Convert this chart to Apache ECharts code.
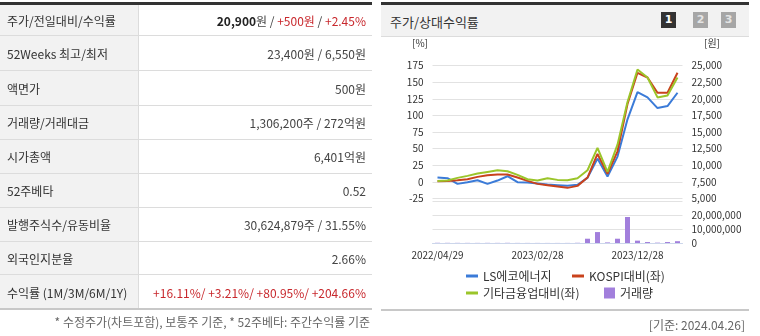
<!DOCTYPE html>
<html><head><meta charset="utf-8">
<script src="https://cdn.jsdelivr.net/npm/echarts/dist/echarts.min.js"></script>
<style>
html,body{margin:0;padding:0;width:760px;height:336px;overflow:hidden;background:#fff;font-family:"Noto Sans CJK KR","Noto Sans",sans-serif;color:#333;}
#chart{position:absolute;left:0;top:0;width:760px;height:336px;}
.a{position:absolute;box-sizing:border-box;}
.row{position:absolute;left:0;width:372px;border-bottom:1px solid #dcdcdc;box-sizing:border-box;font-size:12px;}
.lab{position:absolute;left:0;top:0;bottom:0;width:139px;background:#f2f2f2;border-right:1px solid #dcdcdc;padding-left:7px;display:flex;align-items:center;box-sizing:border-box;color:#333;}
.val{position:absolute;left:139px;right:6px;top:0;bottom:0;display:flex;align-items:center;justify-content:flex-end;color:#444;white-space:nowrap;}
.red{color:#c8282d;}
b{color:#222;}
.btn{position:absolute;top:12px;width:15px;height:16px;font-size:11px;font-weight:bold;text-align:center;line-height:16px;font-family:"DejaVu Sans",sans-serif;}
</style></head>
<body>
<div id="chart"></div>

<!-- left info table -->
<div class="a" style="left:0;top:2px;width:372px;height:3px;background:#333;"></div>
<div class="row" style="top:5px;height:31px;"><div class="lab">주가/전일대비/수익률</div><div class="val"><b>20,900</b>원&nbsp;/&nbsp;<span class="red">+500원</span>&nbsp;/&nbsp;<span class="red">+2.45%</span></div></div>
<div class="row" style="top:36px;height:35px;"><div class="lab">52Weeks 최고/최저</div><div class="val">23,400원 / 6,550원</div></div>
<div class="row" style="top:71px;height:35px;"><div class="lab">액면가</div><div class="val">500원</div></div>
<div class="row" style="top:106px;height:34px;"><div class="lab">거래량/거래대금</div><div class="val">1,306,200주 / 272억원</div></div>
<div class="row" style="top:140px;height:34px;"><div class="lab">시가총액</div><div class="val">6,401억원</div></div>
<div class="row" style="top:174px;height:34px;"><div class="lab">52주베타</div><div class="val">0.52</div></div>
<div class="row" style="top:208px;height:34px;"><div class="lab">발행주식수/유동비율</div><div class="val">30,624,879주 / 31.55%</div></div>
<div class="row" style="top:242px;height:33px;"><div class="lab">외국인지분율</div><div class="val">2.66%</div></div>
<div class="row" style="top:275px;height:34px;border-bottom:none;"><div class="lab">수익률 (1M/3M/6M/1Y)</div><div class="val red">+16.11%/ +3.21%/ +80.95%/ +204.66%</div></div>
<div class="a" style="left:0;top:308px;width:372px;height:2px;background:#c8c8c8;"></div>
<div class="a" style="right:390px;top:313px;font-size:12px;color:#666;white-space:nowrap;">* 수정주가(차트포함), 보통주 기준, * 52주베타: 주간수익률 기준</div>

<!-- right panel frame -->
<div class="a" style="left:381px;top:2px;width:368px;height:3px;background:#333;"></div>
<div class="a" style="left:381px;top:5px;width:368px;height:32px;background:#f2f2f2;border-bottom:1px solid #dcdcdc;"></div>
<div class="a" style="left:390px;top:12px;font-size:13px;color:#333;">주가/상대수익률</div>
<div class="btn" style="left:661px;background:#333;color:#fff;">1</div>
<div class="btn" style="left:693px;background:#a6a6a6;color:#e4e4e4;">2</div>
<div class="btn" style="left:721px;background:#a6a6a6;color:#e4e4e4;">3</div>
<div class="a" style="left:381px;top:309px;width:368px;height:2px;background:#c8c8c8;"></div>
<div class="a" style="right:15px;top:316px;font-size:12px;color:#666;white-space:nowrap;">[기준: 2024.04.26]</div>

<script>
// ---- data ----
const dates = ['2022/04/29','2022/05/31','2022/06/30','2022/07/29','2022/08/31','2022/09/30','2022/10/31','2022/11/30','2022/12/29','2023/01/31','2023/02/28','2023/03/31','2023/04/28','2023/05/31','2023/06/30','2023/07/31','2023/08/31','2023/09/27','2023/10/31','2023/11/30','2023/12/28','2024/01/31','2024/02/29','2024/03/29','2024/04/26'];
const lsPrice = [8150, 8050, 7200, 7450, 7750, 7200, 7700, 8350, 7450, 7400, 7250, 7100, 7000, 6900, 7050, 8100, 11000, 8300, 11300, 16900, 21000, 20200, 18600, 18900, 20900];
const kospiRel = [1, 1.5, 2.5, 4, 7.5, 10, 11, 11, 6.5, 1.5, -3, -5, -7, -9, -6, 6.5, 42, 12, 46, 117, 164, 157, 134, 134, 164];
const sectorRel = [1.5, 2, 6, 9, 12.5, 15, 17.5, 16, 10.5, 4, 2, 5.5, 3, 2.5, 5.5, 17.5, 51, 15, 56, 120, 169, 157, 127, 130, 157];
const volume = [150000, 120000, 100000, 90000, 80000, 110000, 90000, 130000, 70000, 60000, 60000, 50000, 50000, 60000, 150000, 3100000, 7900000, 400000, 3100000, 18800000, 1700000, 700000, 250000, 700000, 1306200];
const pctTicks = {min: -25, max: 175, step: 25};
const priceTicks = {min: 5000, max: 25000, step: 2500};
const volTicks = {min: 0, max: 30000000, step: 10000000};

const C_LS = '#3b7bd8', C_KOSPI = '#c9421c', C_SECTOR = '#9bc52a', C_VOL = '#a27fdc';
const FONT = '"Noto Sans CJK KR","Noto Sans",sans-serif';
const fmt = v => Number(v).toLocaleString('en-US');
const labelStyle = {fontSize: 10, color: '#333', fontFamily: FONT};
const gridLine = {show: true, lineStyle: {color: '#e2e2e2', width: 1}};

const chart = echarts.init(document.getElementById('chart'), null, {renderer: 'canvas'});
const legendBase = {padding: 0, icon: 'rect', itemWidth: 12, itemHeight: 3, selectedMode: false,
  textStyle: {fontSize: 12, color: '#333', fontFamily: FONT}};
chart.setOption({
  animation: false,
  grid: [
    {left: 432.5, width: 250, top: 65.5, height: 133},
    {left: 432.5, width: 250, top: 201.5, height: 41.5}
  ],
  xAxis: [
    {type: 'category', gridIndex: 0, data: dates, boundaryGap: true, show: false},
    {type: 'category', gridIndex: 1, data: dates, boundaryGap: true,
     axisLine: {lineStyle: {color: '#ccd6eb'}},
     axisTick: {length: 5, lineStyle: {color: '#ccd6eb'}, interval: (i) => i === 0 || i % 10 === 1},
     axisLabel: Object.assign({}, labelStyle, {margin: 7, interval: (i) => i % 10 === 0})}
  ],
  yAxis: [
    {type: 'value', gridIndex: 0, position: 'left', min: pctTicks.min, max: pctTicks.max, interval: pctTicks.step,
     axisLine: {show: false}, axisTick: {show: false}, splitLine: gridLine,
     axisLabel: Object.assign({}, labelStyle, {margin: 9})},
    {type: 'value', gridIndex: 0, position: 'right', min: priceTicks.min, max: priceTicks.max, interval: priceTicks.step,
     axisLine: {show: false}, axisTick: {show: false}, splitLine: {show: false},
     axisLabel: Object.assign({}, labelStyle, {margin: 9, formatter: fmt})},
    {type: 'value', gridIndex: 1, position: 'right', min: volTicks.min, max: volTicks.max, interval: volTicks.step,
     axisLine: {show: false}, axisTick: {show: false}, splitLine: gridLine,
     axisLabel: Object.assign({}, labelStyle, {margin: 9, showMaxLabel: false, formatter: fmt})}
  ],
  legend: [
    Object.assign({}, legendBase, {data: ['LS에코에너지'], left: 466, top: 270}),
    Object.assign({}, legendBase, {data: ['KOSPI대비(좌)'], left: 572, top: 270}),
    Object.assign({}, legendBase, {data: ['기타금융업대비(좌)'], left: 466, top: 287}),
    Object.assign({}, legendBase, {data: ['거래량'], left: 604, top: 287, itemWidth: 11, itemHeight: 11})
  ],
  graphic: [
    {type: 'text', left: 412, top: 38, style: {text: '[%]', fontSize: 10, fill: '#333', fontFamily: FONT}},
    {type: 'text', left: 704, top: 38, style: {text: '[원]', fontSize: 10, fill: '#333', fontFamily: FONT}}
  ],
  series: [
    {name: '거래량', type: 'bar', xAxisIndex: 1, yAxisIndex: 2, data: volume, barWidth: 5, itemStyle: {color: C_VOL}},
    {name: 'LS에코에너지', type: 'line', xAxisIndex: 0, yAxisIndex: 1, data: lsPrice, symbol: 'none',
     lineStyle: {color: C_LS, width: 2}, itemStyle: {color: C_LS}},
    {name: 'KOSPI대비(좌)', type: 'line', xAxisIndex: 0, yAxisIndex: 0, data: kospiRel, symbol: 'none',
     lineStyle: {color: C_KOSPI, width: 2}, itemStyle: {color: C_KOSPI}},
    {name: '기타금융업대비(좌)', type: 'line', xAxisIndex: 0, yAxisIndex: 0, data: sectorRel, symbol: 'none',
     lineStyle: {color: C_SECTOR, width: 2}, itemStyle: {color: C_SECTOR}}
  ]
});
</script>
</body></html>
